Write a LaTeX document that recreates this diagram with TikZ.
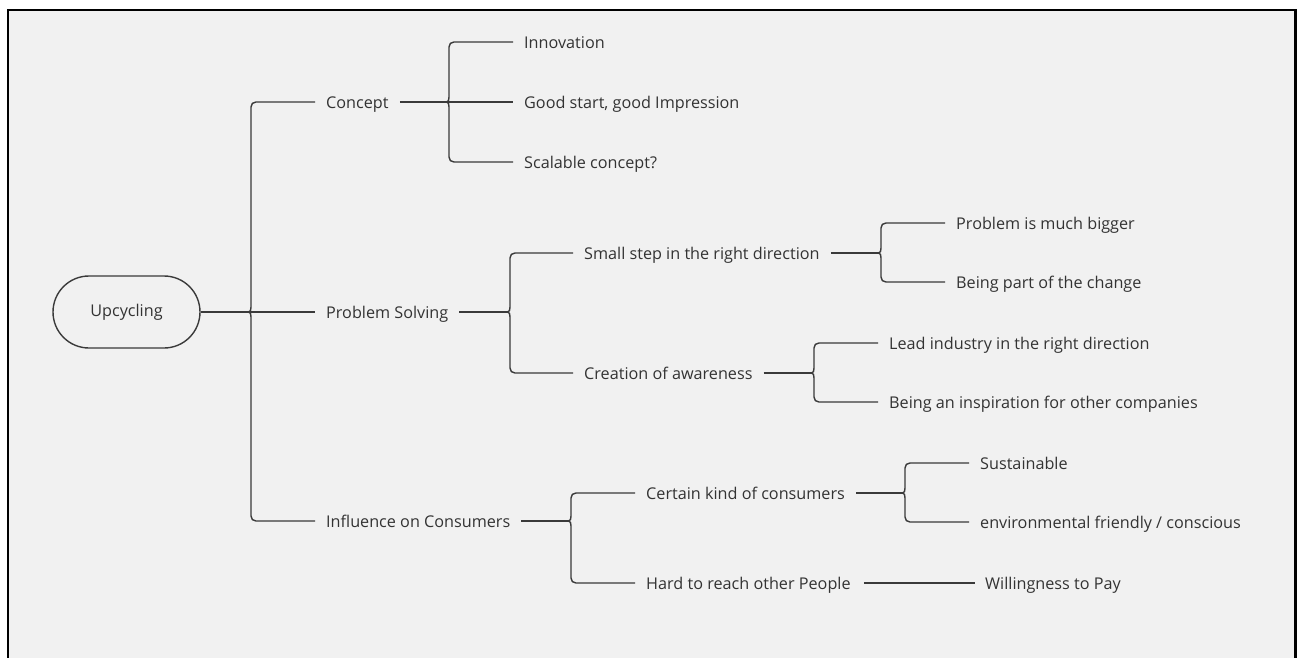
\documentclass[tikz,border=0pt]{standalone}
\usepackage{fontspec}
\setmainfont{Open Sans}
\usetikzlibrary{calc}
\definecolor{paper}{HTML}{F1F1F1}
\definecolor{ink}{HTML}{3A3A3A}
\definecolor{txt}{HTML}{333333}

% connector from a brace tip (#1) to a child above / below / level with it
\newcommand\kidup[2]{\draw[link] (#1) .. controls +(2,0) and +(0,3) .. ($(#1)+(2.5,-5)$)
  -- ($(#1 |- #2.west)+(2.5,5)$) .. controls +(0,-3) and +(-3,0) .. ($(#1 |- #2.west)+(7.5,0)$)
  -- ($(#2.west)+(-11,0)$);}
\newcommand\kiddown[2]{\draw[link] (#1) .. controls +(2,0) and +(0,-3) .. ($(#1)+(2.5,5)$)
  -- ($(#1 |- #2.west)+(2.5,-5)$) .. controls +(0,3) and +(-3,0) .. ($(#1 |- #2.west)+(7.5,0)$)
  -- ($(#2.west)+(-11,0)$);}
\newcommand\kidmid[2]{\draw[link] (#1) -- ($(#2.west)+(-11,0)$);}
\newcommand\stem[2]{\draw[link] ($(#1.east)+(11,0)$) -- (#2);}

\begin{document}
\begin{tikzpicture}[x=1pt,y=-1pt,
  topic/.style={anchor=west, inner sep=0pt, text=txt,
    font=\fontsize{16.2}{19}\selectfont, text height=17pt, text depth=4pt},
  link/.style={draw=ink, line width=1.4pt}]
\useasboundingbox (0,0) rectangle (1301,658);
\clip (0,0) rectangle (1301,658);
\fill[white] (0,0) rectangle (1301,658);
\filldraw[fill=paper, draw=black, line width=2.2pt] (8,10) rectangle (1295.5,680);

% root
\node[draw=ink, line width=1.4pt, rounded corners=36pt, minimum width=147pt,
  minimum height=72pt, inner sep=0pt, text=txt, font=\fontsize{16.2}{19}\selectfont]
  (up) at (126.5,312) {Upcycling};

% first level
\node[topic] (concept) at (326,102) {Concept};
\node[topic] (ps) at (326,312) {Problem Solving};
\node[topic] (infl) at (326,521) {Influence on Consumers};

% concept branch
\node[topic] (inno) at (524,42) {Innovation};
\node[topic] (good) at (524,102) {Good start, good Impression};
\node[topic] (scal) at (524,162) {Scalable concept?};

% problem solving branch
\node[topic] (small) at (584,253) {Small step in the right direction};
\node[topic] (crea) at (584,373) {Creation of awareness};
\node[topic] (big) at (956,223) {Problem is much bigger};
\node[topic] (part) at (956,282) {Being part of the change};
\node[topic] (lead) at (889,343) {Lead industry in the right direction};
\node[topic] (insp) at (889,402) {Being an inspiration for other companies};

% consumers branch
\node[topic] (cert) at (646,493) {Certain kind of consumers};
\node[topic] (hard) at (646,583) {Hard to reach other People};
\node[topic] (sust) at (980,463) {Sustainable};
\node[topic] (env) at (980,522) {environmental friendly / conscious};
\node[topic] (will) at (985,583) {Willingness to Pay};

% brace tips
\coordinate (jr) at (248.5,312);
\coordinate (jc) at (446.5,102);
\coordinate (jp) at (507.5,312);
\coordinate (js) at (878.5,253);
\coordinate (ja) at (811.5,373);
\coordinate (ji) at (568.5,521);
\coordinate (jk) at (902.5,493);

% connectors
\draw[link] (up.east) -- (jr);
\kidup{jr}{concept} \kidmid{jr}{ps} \kiddown{jr}{infl}

\stem{concept}{jc}
\kidup{jc}{inno} \kidmid{jc}{good} \kiddown{jc}{scal}

\stem{ps}{jp}
\kidup{jp}{small} \kiddown{jp}{crea}
\stem{small}{js}
\kidup{js}{big} \kiddown{js}{part}
\stem{crea}{ja}
\kidup{ja}{lead} \kiddown{ja}{insp}

\stem{infl}{ji}
\kidup{ji}{cert} \kiddown{ji}{hard}
\stem{cert}{jk}
\kidup{jk}{sust} \kiddown{jk}{env}
\draw[link] ($(hard.east)+(13,0)$) -- ($(will.west)+(-10,0)$);
\end{tikzpicture}
\end{document}
